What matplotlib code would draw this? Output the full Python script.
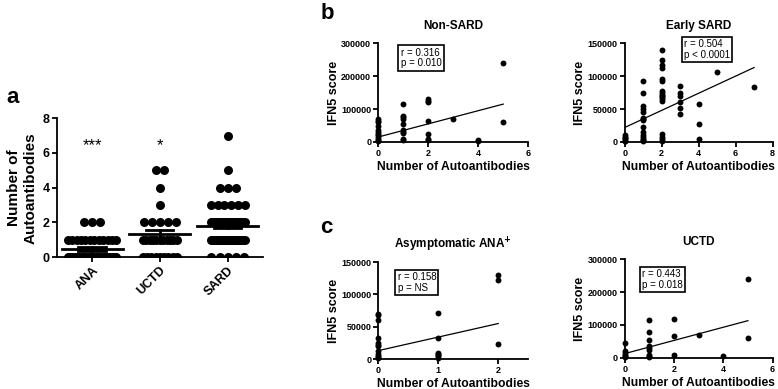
import numpy as np
import matplotlib
matplotlib.use('Agg')
import matplotlib.pyplot as plt

plt.rcParams['font.family'] = ['Liberation Sans', 'DejaVu Sans']

# ---- panel a: number of autoantibodies per group ----
groups = ['ANA', 'UCTD', 'SARD']
# count of patients at each autoantibody number
ana_counts = {0: 22, 1: 12, 2: 3}
uctd_counts = {0: 9, 1: 11, 2: 5, 3: 1, 4: 1, 5: 2}
sard_counts = {0: 5, 1: 25, 2: 30, 3: 6, 4: 3, 5: 1, 7: 1}
stars = ['***', '*', '']

# ---- panels b, c: IFN5 score vs number of autoantibodies ----
nonsard_x = [0]*12 + [1]*10 + [2]*7 + [3] + [4]*2 + [5]*2
nonsard_y = [70000, 65000, 60000, 48000, 35000, 30000, 25000, 20000, 15000, 10000, 5000, 2000,
             115000, 78000, 75000, 70000, 55000, 35000, 30000, 28000, 10000, 5000,
             130000, 125000, 120000, 65000, 25000, 10000, 5000,
             70000,
             5000, 3000,
             240000, 60000]

early_x = [0]*6 + [1]*15 + [2]*17 + [3]*6 + [4]*3 + [5] + [7]
early_y = [10000, 8000, 6000, 4000, 2000, 1000,
           93000, 75000, 55000, 50000, 45000, 37000, 35000, 33000, 23000, 15000, 10000, 7000, 5000, 3000, 1000,
           140000, 125000, 117000, 113000, 95000, 92000, 78000, 75000, 72000, 70000, 68000, 65000, 62000,
           12000, 8000, 5000, 2000,
           85000, 75000, 70000, 60000, 52000, 42000,
           57000, 27000, 5000,
           107000,
           83000]

asym_x = [0]*12 + [1]*7 + [2]*3
asym_y = [70000, 68000, 60000, 32000, 25000, 22000, 20000, 12000, 8000, 5000, 3000, 1000,
          72000, 32000, 10000, 8000, 6000, 4000, 2000,
          130000, 122000, 23000]

uctd_x = [0]*6 + [1]*9 + [2]*3 + [3] + [4] + [5]*2
uctd_y = [45000, 20000, 15000, 10000, 5000, 2000,
          115000, 78000, 55000, 35000, 30000, 25000, 10000, 5000, 2000,
          117000, 65000, 8000,
          70000,
          5000,
          240000, 60000]

# fitted line (intercept, slope) and stats
fits = {'Non-SARD': (15000, 20000), 'Early SARD': (22000, 13000),
        'Asym': (13000, 21000), 'UCTD': (13000, 20000)}
stats = {'Non-SARD': 'r = 0.316\np = 0.010', 'Early SARD': 'r = 0.504\np < 0.0001',
         'Asym': 'r = 0.158\np = NS', 'UCTD': 'r = 0.443\np = 0.018'}

fig = plt.figure(figsize=(7.78, 3.89), dpi=100)


def style_axes(ax, tick_size=6.5):
    for s in ['top', 'right']:
        ax.spines[s].set_visible(False)
    for s in ['left', 'bottom']:
        ax.spines[s].set_linewidth(1.3)
    ax.tick_params(width=1.3, length=3.5, labelsize=tick_size, pad=1.5)
    for lab in ax.get_xticklabels() + ax.get_yticklabels():
        lab.set_fontweight('bold')


# panel a
ax = fig.add_axes([0.073, 0.339, 0.265, 0.357])
spans = [0.72, 0.5, 0.5]
for i, counts in enumerate([ana_counts, uctd_counts, sard_counts]):
    vals = []
    for v, n in counts.items():
        span = min((n - 1) * 0.12, spans[i])
        xs = i + (np.linspace(-span / 2, span / 2, n) if n > 1 else np.array([0.0]))
        ax.scatter(xs, [v] * n, s=42, color='black', zorder=3, linewidths=0)
        vals += [v] * n
    vals = np.array(vals)
    m = vals.mean()
    sem = vals.std(ddof=1) / np.sqrt(len(vals))
    ax.plot([i - 0.45, i + 0.45], [m, m], color='black', lw=2, zorder=4)
    ax.plot([i, i], [m - sem, m + sem], color='black', lw=2, zorder=4)
    ax.plot([i - 0.2, i + 0.2], [m - sem] * 2, color='black', lw=2, zorder=4)
    ax.plot([i - 0.2, i + 0.2], [m + sem] * 2, color='black', lw=2, zorder=4)
    if stars[i]:
        ax.text(i, 6.4, stars[i], ha='center', va='center', fontsize=12)
ax.set_xlim(-0.52, 2.52)
ax.set_ylim(0, 8)
ax.set_yticks([0, 2, 4, 6, 8])
ax.set_xticks([0, 1, 2])
ax.set_xticklabels(groups, rotation=45, ha='right', rotation_mode='anchor')
ax.set_ylabel('Number of\nAutoantibodies', fontsize=11, fontweight='bold', labelpad=4)
style_axes(ax, tick_size=9)
fig.text(0.008, 0.735, 'a', fontsize=16, fontweight='bold')

# scatter panels
panels = [
    ('Non-SARD', 'Non-SARD', nonsard_x, nonsard_y, [0.486, 0.635, 0.193, 0.254],
     (0, 6), [0, 2, 4, 6], (0, 300000), [0, 100000, 200000, 300000], 5, (0.15, 0.85)),
    ('Early SARD', 'Early SARD', early_x, early_y, [0.803, 0.635, 0.190, 0.254],
     (0, 8), [0, 2, 4, 6, 8], (0, 150000), [0, 50000, 100000, 150000], 7, (0.40, 0.94)),
    ('Asym', 'Asymptomatic ANA$^{\\mathbf{+}}$', asym_x, asym_y, [0.486, 0.077, 0.193, 0.249],
     (0, 2.5), [0, 1, 2], (0, 150000), [0, 50000, 100000, 150000], 2, (0.13, 0.79)),
    ('UCTD', 'UCTD', uctd_x, uctd_y, [0.803, 0.080, 0.190, 0.254],
     (0, 6), [0, 2, 4, 6], (0, 300000), [0, 100000, 200000, 300000], 5, (0.12, 0.79)),
]
for key, title, xs, ys, rect, xlim, xt, ylim, yt, xmax, boxpos in panels:
    ax = fig.add_axes(rect)
    ax.scatter(xs, ys, s=18, color='black', linewidths=0, zorder=3, clip_on=False)
    b0, b1 = fits[key]
    lx = np.array([0, xmax])
    ax.plot(lx, b0 + b1 * lx, color='black', lw=0.9)
    ax.set_xlim(*xlim)
    ax.set_ylim(*ylim)
    ax.set_xticks(xt)
    ax.set_yticks(yt)
    ax.set_title(title, fontsize=8.5, fontweight='bold', pad=10)
    ax.set_xlabel('Number of Autoantibodies', fontsize=8.7, fontweight='bold', labelpad=2.5)
    ax.set_ylabel('IFN5 score', fontsize=9, fontweight='bold', labelpad=1)
    style_axes(ax)
    ax.text(boxpos[0], boxpos[1], stats[key], transform=ax.transAxes, fontsize=7,
            ha='left', va='center', linespacing=1.1,
            bbox=dict(boxstyle='square,pad=0.22', fc='white', ec='black', lw=1.2))

fig.text(0.412, 0.951, 'b', fontsize=16, fontweight='bold')
fig.text(0.412, 0.401, 'c', fontsize=16, fontweight='bold')

fig.savefig('out.png', dpi=100)
